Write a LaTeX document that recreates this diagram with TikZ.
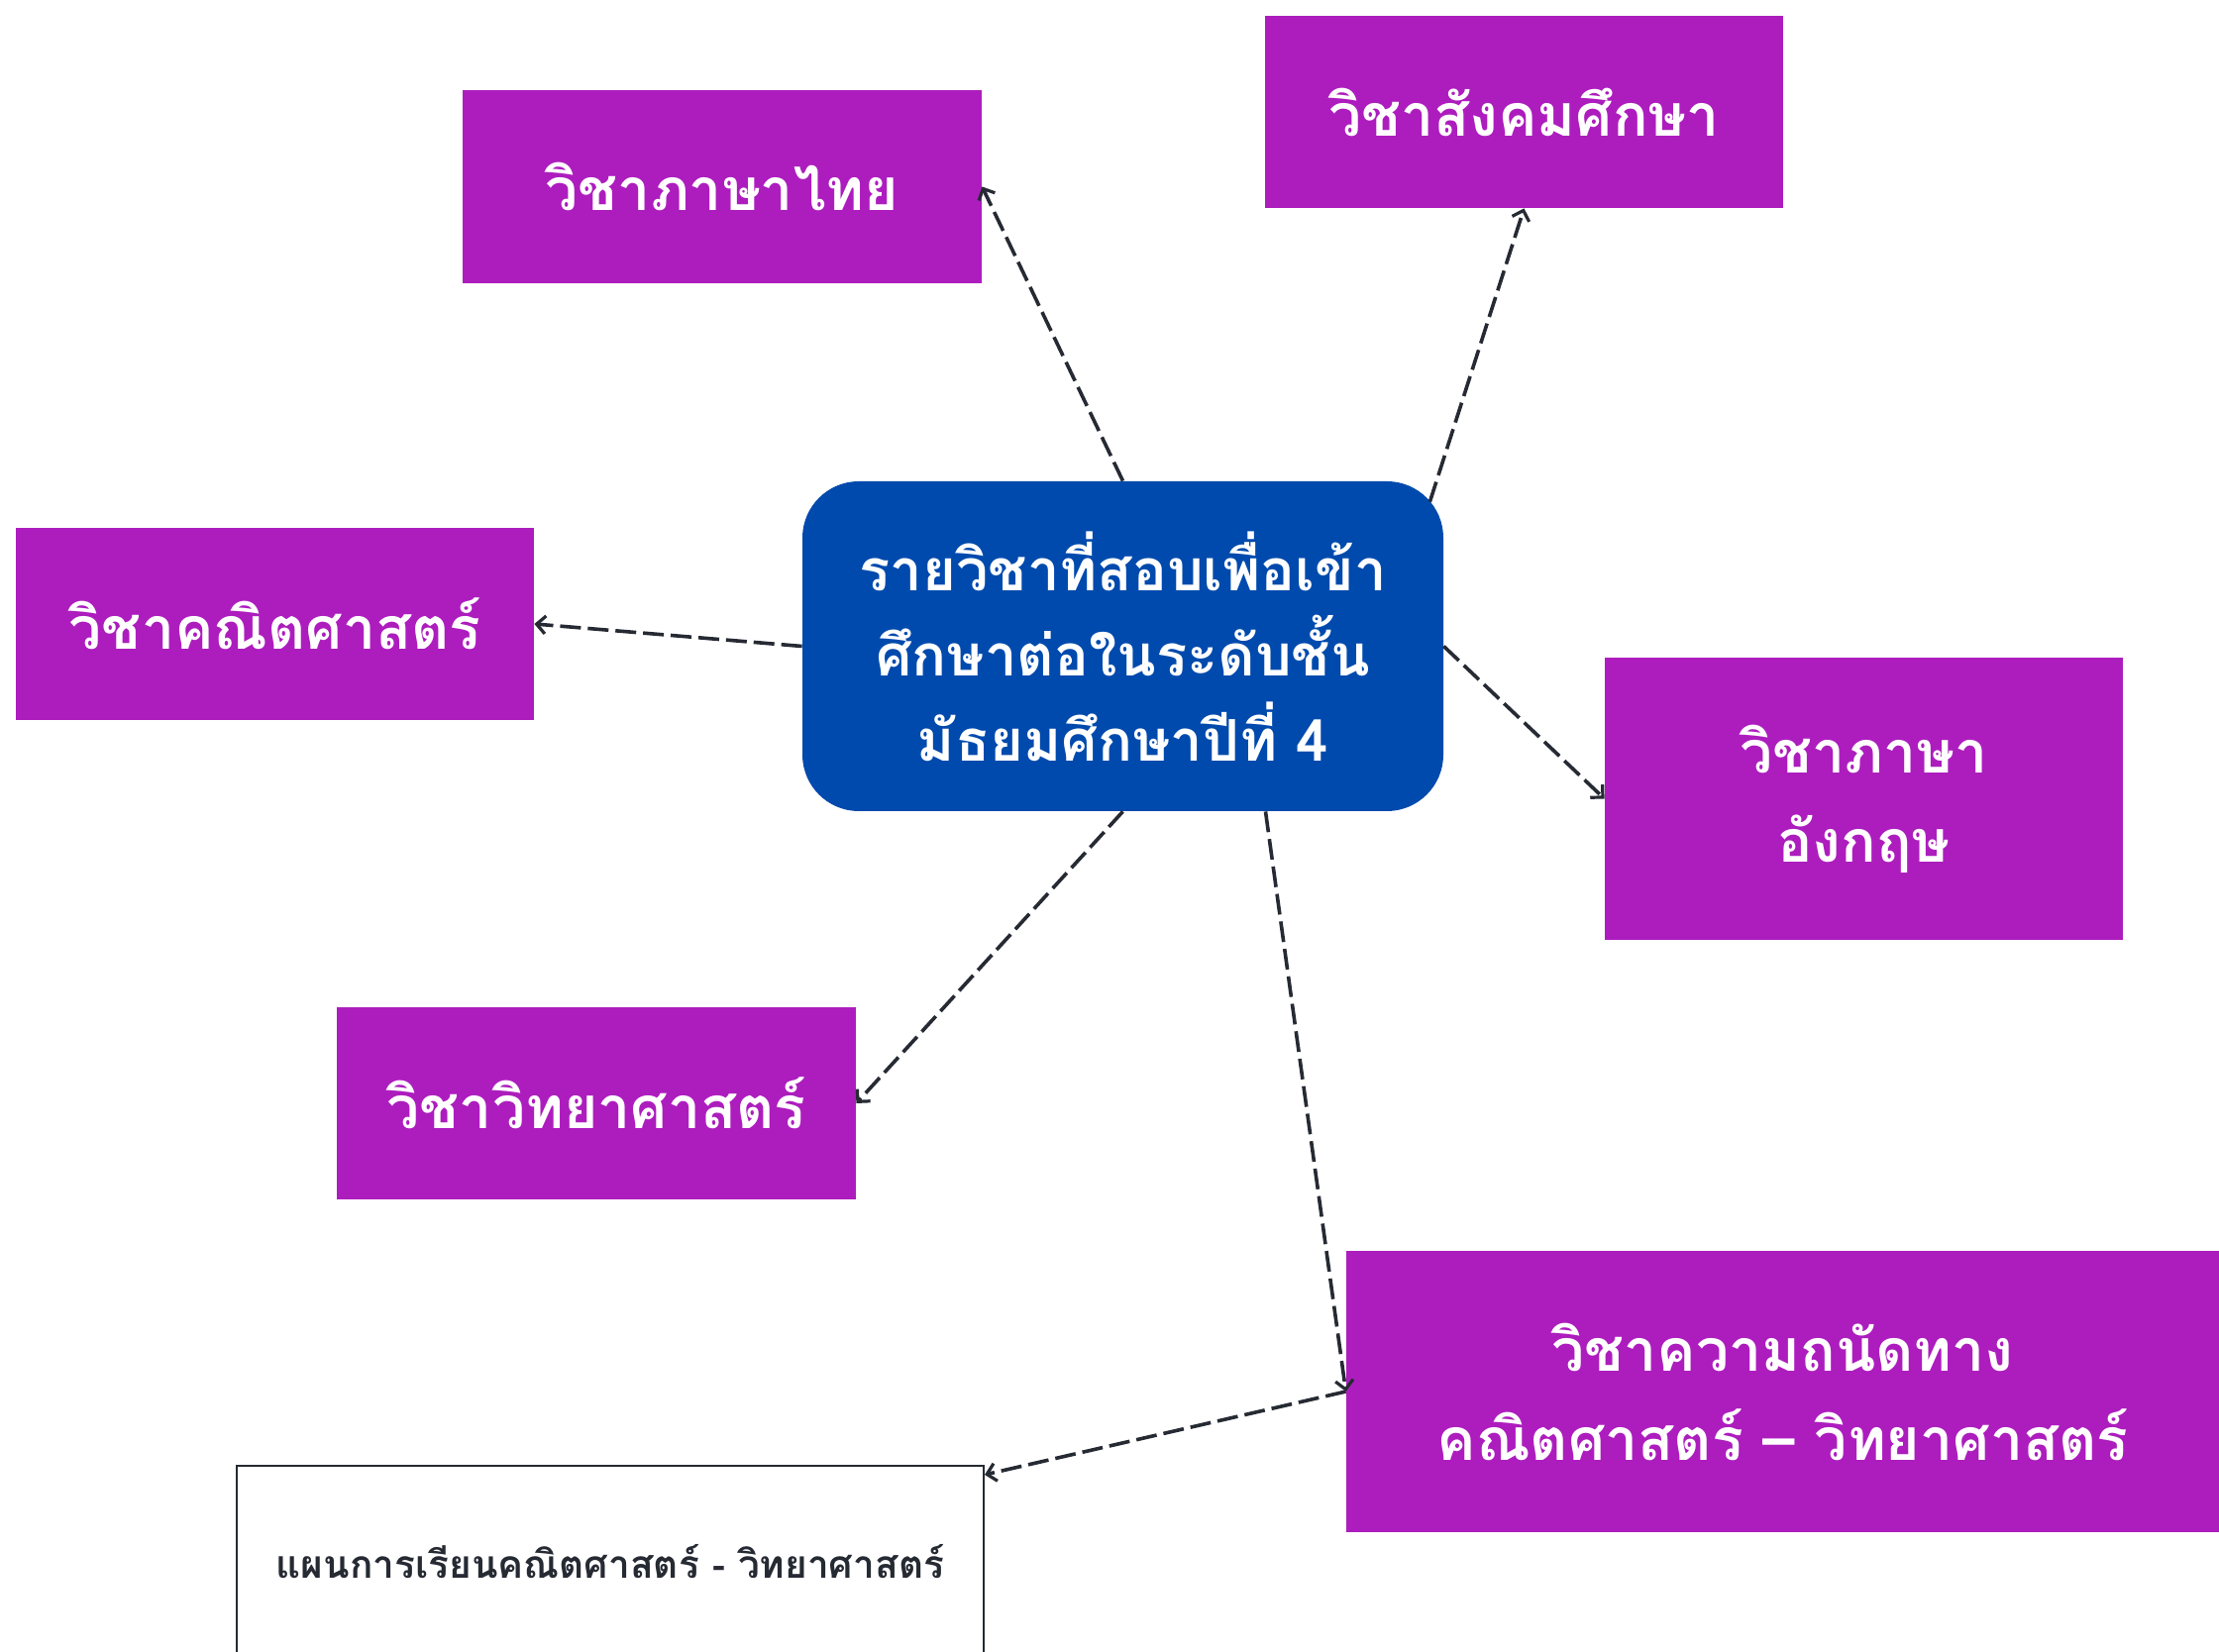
\documentclass[tikz,border=0pt]{standalone}
\usepackage{fontspec}
\newfontfamily\thaifont[Script=Thai]{Loma}
\usetikzlibrary{arrows.meta,calc}
\definecolor{boxpurple}{RGB}{173,29,190}
\definecolor{centerblue}{RGB}{0,74,173}
\definecolor{linedark}{RGB}{38,42,51}
\tikzset{
  subj/.style={fill=boxpurple, text=white, align=center, inner sep=0pt,
    font=\thaifont\bfseries\fontsize{29.5}{45}\selectfont},
  hub/.style={fill=centerblue, text=white, align=center, inner sep=0pt,
    rounded corners=28.5pt, minimum width=323.5pt, minimum height=166.5pt,
    font=\thaifont\bfseries\fontsize{29}{43}\selectfont},
  planbox/.style={fill=white, draw=linedark, line width=1pt, text=linedark,
    inner sep=0pt, minimum width=377pt, minimum height=97pt,
    font=\thaifont\bfseries\fontsize{19.4}{22}\selectfont},
  conn/.style={draw=linedark, line width=1.8pt, dash pattern=on 10.5pt off 3.5pt,
    -{Straight Barb[length=4.5pt,width=9pt,line width=1.6pt]}}
}
\begin{document}
\begin{tikzpicture}[x=0.5pt,y=-0.5pt]
\fill[white] (0,0) rectangle (2240,1668);
\useasboundingbox (0,0) rectangle (2240,1668);

\node[hub] (center) at (1133.5,652.5) {รายวิชาที่สอบเพื่อเข้า\\ศึกษาต่อในระดับชั้น\\มัธยมศึกษาปีที่ 4};

\node[subj, minimum width=262pt, minimum height=97.5pt] (thai) at (729,188.5) {วิชาภาษาไทย};
\node[subj, minimum width=261.5pt, minimum height=97pt] (social) at (1538.5,113) {วิชาสังคมศึกษา};
\node[subj, minimum width=261.5pt, minimum height=97pt] (math) at (277.5,630) {วิชาคณิตศาสตร์};
\node[subj, minimum width=261.5pt, minimum height=142.5pt] (eng) at (1881.5,806.5) {วิชาภาษา\\อังกฤษ};
\node[subj, minimum width=262pt, minimum height=97pt] (sci) at (602,1114) {วิชาวิทยาศาสตร์};
\node[subj, minimum width=440.5pt, minimum height=142pt] (apt) at (1799.5,1405) {วิชาความถนัดทาง\\คณิตศาสตร์ – วิทยาศาสตร์};
\node[planbox] (plan) at (616,1577) {แผนการเรียนคณิตศาสตร์ - วิทยาศาสตร์};

\draw[conn] (center.north) -- (thai.east);
\draw[conn] ([shift={(-7pt,-10.5pt)}]center.north east) -- (social.south);
\draw[conn] (center.west) -- (math.east);
\draw[conn] (center.east) -- (eng.west);
\draw[conn] (center.south) -- (sci.east);
\draw[conn] ([xshift=72pt]center.south) -- (apt.west);
\draw[conn] (apt.west) -- ([yshift=-5pt]plan.north east);
\end{tikzpicture}
\end{document}
